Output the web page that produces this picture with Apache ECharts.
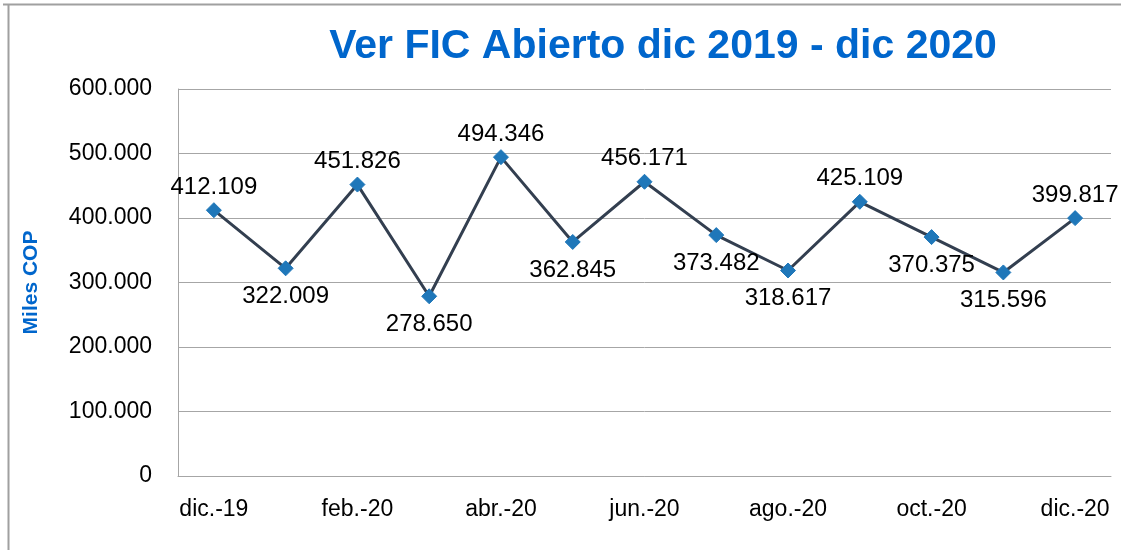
<!DOCTYPE html>
<html>
<head>
<meta charset="utf-8">
<script src="https://cdn.jsdelivr.net/npm/echarts@6/dist/echarts.min.js"></script>
<style>
  html, body { margin: 0; padding: 0; background: #fff; }
  #chart { width: 1121px; height: 550px; }
</style>
</head>
<body>
<div id="chart"></div>
<script>
// months shown on the category axis
const months = [
  "dic.-19", "ene.-20", "feb.-20", "mar.-20", "abr.-20", "may.-20", "jun.-20",
  "jul.-20", "ago.-20", "sep.-20", "oct.-20", "nov.-20", "dic.-20",
];
// Miles COP
const values = [
  412109, 322009, 451826, 278650, 494346, 362845, 456171,
  373482, 318617, 425109, 370375, 315596, 399817,
];
const yTicks = [0, 100000, 200000, 300000, 400000, 500000, 600000];

const labelsBelow = new Set([1, 3, 5, 7, 8, 10, 11]);
const FONT = '"Liberation Sans", Arial, sans-serif';

const fmt = (v) => String(Math.round(v)).replace(/\B(?=(\d{3})+(?!\d))/g, ".");

const chart = echarts.init(document.getElementById("chart"));

chart.setOption({
  animation: false,
  title: {
    text: "Ver FIC Abierto dic 2019 - dic 2020",
    left: 658,
    top: 21,
    textAlign: "center",
    textStyle: { color: "#0066CC", fontSize: 41, fontWeight: "bold", fontFamily: FONT },
  },
  graphic: [
    { type: "line", shape: { x1: 3, y1: 4.5, x2: 1121, y2: 4.5 }, style: { stroke: "#a0a0a0", lineWidth: 2 } },
    { type: "line", shape: { x1: 8.5, y1: 4, x2: 8.5, y2: 550 }, style: { stroke: "#a0a0a0", lineWidth: 2 } },
  ],
  grid: { left: 178, right: 10, top: 89, bottom: 74 },
  xAxis: {
    type: "category",
    data: months,
    boundaryGap: true,
    axisLine: { lineStyle: { color: "#a6a6a6", width: 1 } },
    axisTick: { show: false },
    axisLabel: {
      interval: 1,
      margin: 22,
      color: "#000",
      fontSize: 23,
      fontFamily: FONT,
    },
  },
  yAxis: {
    type: "value",
    min: yTicks[0],
    max: yTicks[yTicks.length - 1],
    interval: yTicks[1] - yTicks[0],
    name: "Miles COP",
    nameLocation: "middle",
    nameGap: 136,
    nameRotate: 90,
    nameTextStyle: { color: "#0066CC", fontSize: 21, fontWeight: "bold", fontFamily: FONT },
    axisLine: { show: true, lineStyle: { color: "#a6a6a6", width: 1 } },
    axisTick: { show: false },
    splitLine: { lineStyle: { color: "#a6a6a6", width: 1 } },
    axisLabel: {
      margin: 26,
      color: "#000",
      fontSize: 23,
      fontFamily: FONT,
      formatter: (v) => fmt(v),
    },
  },
  series: [
    {
      type: "line",
      data: values.map((v, i) => ({
        value: v,
        label: labelsBelow.has(i)
          ? { position: "bottom", distance: 8 }
          : { position: "top", distance: 3 },
      })),
      symbol: "diamond",
      symbolSize: 15,
      lineStyle: { color: "#333F50", width: 3 },
      itemStyle: { color: "#1F77B9", borderColor: "#1F77B9" },
      label: {
        show: true,
        color: "#000",
        fontSize: 24,
        fontFamily: FONT,
        formatter: (p) => fmt(p.value),
      },
    },
  ],
});
</script>
</body>
</html>
